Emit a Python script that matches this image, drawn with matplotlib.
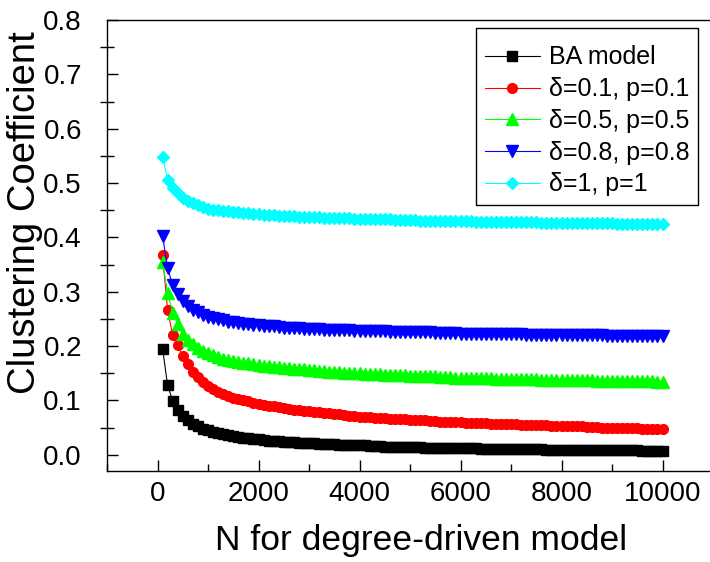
import numpy as np
import matplotlib
matplotlib.use("Agg")
import matplotlib.pyplot as plt
from matplotlib.ticker import MultipleLocator, FormatStrFormatter

plt.rcParams['font.family'] = ['Liberation Sans', 'DejaVu Sans']

# network size, 100 .. 10000 in steps of 100
N = np.arange(100, 10001, 100)

ba_model = [
    0.195, 0.128, 0.099, 0.083, 0.071, 0.063, 0.057, 0.052, 0.048, 0.045,
    0.042, 0.040, 0.038, 0.036, 0.034, 0.033, 0.031, 0.030, 0.029, 0.028,
    0.027, 0.026, 0.026, 0.025, 0.024, 0.024, 0.023, 0.022, 0.022, 0.021,
    0.021, 0.020, 0.020, 0.019, 0.019, 0.018, 0.018, 0.018, 0.017, 0.017,
    0.017, 0.016, 0.016, 0.016, 0.015, 0.015, 0.015, 0.015, 0.014, 0.014,
    0.014, 0.014, 0.013, 0.013, 0.013, 0.013, 0.013, 0.012, 0.012, 0.012,
    0.012, 0.012, 0.012, 0.011, 0.011, 0.011, 0.011, 0.011, 0.011, 0.010,
    0.010, 0.010, 0.010, 0.010, 0.010, 0.010, 0.009, 0.009, 0.009, 0.009,
    0.009, 0.009, 0.009, 0.009, 0.009, 0.008, 0.008, 0.008, 0.008, 0.008,
    0.008, 0.008, 0.008, 0.008, 0.008, 0.007, 0.007, 0.007, 0.007, 0.007,
]

d01_p01 = [
    0.368, 0.266, 0.221, 0.201, 0.181, 0.166, 0.153, 0.143, 0.134, 0.127,
    0.121, 0.116, 0.112, 0.108, 0.105, 0.102, 0.100, 0.098, 0.096, 0.094,
    0.092, 0.090, 0.089, 0.087, 0.086, 0.084, 0.083, 0.082, 0.081, 0.080,
    0.079, 0.078, 0.077, 0.076, 0.075, 0.074, 0.073, 0.072, 0.071, 0.070,
    0.070, 0.069, 0.068, 0.068, 0.067, 0.066, 0.066, 0.065, 0.065, 0.064,
    0.064, 0.063, 0.063, 0.062, 0.062, 0.061, 0.061, 0.060, 0.060, 0.060,
    0.059, 0.059, 0.058, 0.058, 0.058, 0.057, 0.057, 0.057, 0.056, 0.056,
    0.056, 0.055, 0.055, 0.055, 0.054, 0.054, 0.054, 0.053, 0.053, 0.053,
    0.052, 0.052, 0.052, 0.052, 0.051, 0.051, 0.051, 0.050, 0.050, 0.050,
    0.050, 0.049, 0.049, 0.049, 0.049, 0.048, 0.048, 0.048, 0.048, 0.047,
]

d05_p05 = [
    0.355, 0.298, 0.261, 0.240, 0.222, 0.211, 0.203, 0.196, 0.191, 0.187,
    0.183, 0.180, 0.177, 0.175, 0.173, 0.171, 0.169, 0.168, 0.166, 0.165,
    0.164, 0.163, 0.162, 0.161, 0.160, 0.159, 0.158, 0.157, 0.157, 0.156,
    0.155, 0.154, 0.154, 0.153, 0.152, 0.152, 0.151, 0.151, 0.150, 0.150,
    0.149, 0.149, 0.148, 0.148, 0.147, 0.147, 0.147, 0.146, 0.146, 0.145,
    0.145, 0.145, 0.144, 0.144, 0.144, 0.143, 0.143, 0.143, 0.142, 0.142,
    0.142, 0.142, 0.141, 0.141, 0.141, 0.141, 0.140, 0.140, 0.140, 0.140,
    0.139, 0.139, 0.139, 0.139, 0.139, 0.138, 0.138, 0.138, 0.138, 0.138,
    0.137, 0.137, 0.137, 0.137, 0.137, 0.137, 0.136, 0.136, 0.136, 0.136,
    0.136, 0.136, 0.135, 0.135, 0.135, 0.135, 0.135, 0.135, 0.134, 0.134,
]

d08_p08 = [
    0.403, 0.344, 0.312, 0.295, 0.283, 0.274, 0.267, 0.262, 0.257, 0.254,
    0.251, 0.249, 0.247, 0.245, 0.244, 0.242, 0.241, 0.240, 0.239, 0.238,
    0.237, 0.236, 0.236, 0.235, 0.234, 0.234, 0.233, 0.233, 0.232, 0.232,
    0.231, 0.231, 0.230, 0.230, 0.230, 0.229, 0.229, 0.229, 0.228, 0.228,
    0.228, 0.227, 0.227, 0.227, 0.227, 0.226, 0.226, 0.226, 0.226, 0.225,
    0.225, 0.225, 0.225, 0.225, 0.224, 0.224, 0.224, 0.224, 0.224, 0.223,
    0.223, 0.223, 0.223, 0.223, 0.223, 0.222, 0.222, 0.222, 0.222, 0.222,
    0.222, 0.222, 0.221, 0.221, 0.221, 0.221, 0.221, 0.221, 0.221, 0.221,
    0.220, 0.220, 0.220, 0.220, 0.220, 0.220, 0.220, 0.220, 0.219, 0.219,
    0.219, 0.219, 0.219, 0.219, 0.219, 0.219, 0.219, 0.218, 0.218, 0.218,
]

d1_p1 = [
    0.548, 0.506, 0.491, 0.481, 0.473, 0.467, 0.463, 0.459, 0.456, 0.453,
    0.451, 0.450, 0.449, 0.448, 0.447, 0.446, 0.445, 0.444, 0.443, 0.443,
    0.442, 0.441, 0.441, 0.440, 0.440, 0.439, 0.439, 0.438, 0.438, 0.437,
    0.437, 0.437, 0.436, 0.436, 0.436, 0.435, 0.435, 0.435, 0.434, 0.434,
    0.434, 0.434, 0.433, 0.433, 0.433, 0.433, 0.432, 0.432, 0.432, 0.432,
    0.432, 0.431, 0.431, 0.431, 0.431, 0.431, 0.430, 0.430, 0.430, 0.430,
    0.430, 0.430, 0.429, 0.429, 0.429, 0.429, 0.429, 0.429, 0.428, 0.428,
    0.428, 0.428, 0.428, 0.428, 0.428, 0.427, 0.427, 0.427, 0.427, 0.427,
    0.427, 0.427, 0.426, 0.426, 0.426, 0.426, 0.426, 0.426, 0.426, 0.426,
    0.425, 0.425, 0.425, 0.425, 0.425, 0.425, 0.425, 0.425, 0.424, 0.424,
]

fig = plt.figure(figsize=(7.1, 5.62), dpi=100)
ax = fig.add_axes([107 / 710, 91 / 562, (713 - 107) / 710, (471 - 20) / 562])

ax.plot(N, ba_model, color="black", marker="s", ms=6.5, lw=0.8, label="BA model")
ax.plot(N, d01_p01, color="red", marker="o", ms=7, lw=0.8, label="δ=0.1, p=0.1")
ax.plot(N, d05_p05, color="#00ff00", marker="^", ms=8, lw=0.8, label="δ=0.5, p=0.5")
ax.plot(N, d08_p08, color="blue", marker="v", ms=8, lw=0.8, label="δ=0.8, p=0.8")
ax.plot(N, d1_p1, color="cyan", marker="D", ms=6, lw=0.8, label="δ=1, p=1")

ax.set_xlim(-1000, 11000)
ax.set_ylim(-0.03, 0.8)
ax.xaxis.set_major_locator(MultipleLocator(2000))
ax.xaxis.set_minor_locator(MultipleLocator(1000))
ax.yaxis.set_major_locator(MultipleLocator(0.1))
ax.yaxis.set_minor_locator(MultipleLocator(0.05))
ax.yaxis.set_major_formatter(FormatStrFormatter("%.1f"))

ax.tick_params(axis="both", which="major", direction="in", length=8, width=1, labelsize=20)
ax.tick_params(axis="x", which="major", pad=7)
ax.tick_params(axis="y", which="major", pad=18)
ax.tick_params(axis="x", which="minor", direction="in", length=5, width=1)
ax.tick_params(axis="y", which="minor", direction="inout", length=10, width=1)
ax.spines["right"].set_visible(False)
for s in ["left", "bottom", "top"]:
    ax.spines[s].set_linewidth(1.0)

ax.set_xlabel("N for degree-driven model", fontsize=25.5)
ax.xaxis.set_label_coords(0.518, -0.1175)
ax.set_ylabel("Clustering Coefficient", fontsize=27.5)
ax.yaxis.set_label_coords(-0.106, 0.574)

leg = ax.legend(loc="upper right", bbox_to_anchor=(698 / 710, 1 - 28 / 562),
                bbox_transform=fig.transFigure, borderaxespad=0, fontsize=18,
                fancybox=False, edgecolor="black", framealpha=1,
                title=" ", title_fontsize=1,
                handlelength=2.2, handletextpad=0.35, labelspacing=0.31, borderpad=0.35)
leg.get_frame().set_linewidth(1.0)

fig.savefig("out.png", dpi=100)
